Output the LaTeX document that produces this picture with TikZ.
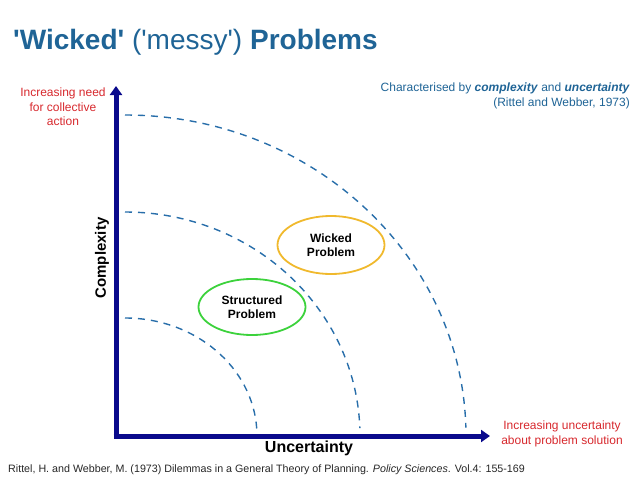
\documentclass[tikz,border=0pt]{standalone}
\usepackage{fontspec}
\setmainfont{Liberation Sans}
\usetikzlibrary{arrows.meta,shapes.geometric}
\definecolor{titleblue}{RGB}{31,100,150}
\definecolor{navy}{RGB}{10,10,140}
\definecolor{arcblue}{RGB}{40,110,170}
\definecolor{labred}{RGB}{215,40,45}
\definecolor{wickgold}{RGB}{240,185,45}
\definecolor{structgreen}{RGB}{60,210,60}
\tikzset{
  arcline/.style={arcblue, line width=1.4pt, dash pattern=on 7pt off 6pt},
  axisline/.style={navy, line width=5pt, -{Triangle[length=9pt,width=12pt]}},
  redlabel/.style={labred, font=\fontsize{12}{14.5}\selectfont, align=center},
  problem/.style={ellipse, line width=1.8pt, font=\bfseries\fontsize{12}{14.5}\selectfont, align=center, inner sep=0pt},
}
\begin{document}
\begin{tikzpicture}[x=1pt,y=-1pt]
\useasboundingbox (0,0) rectangle (638,479);
% arcs
\coordinate (o) at (116,436);
\draw[arcline] (125,318) arc[start angle=-90, end angle=-3, x radius=132, y radius=118];
\draw[arcline] (125,212) arc[start angle=-90, end angle=-2, x radius=235, y radius=224];
\draw[arcline] (125,115) arc[start angle=-90, end angle=-1.5, x radius=341, y radius=321];
% axes
\coordinate (ytip) at (116,86);
\coordinate (xtip) at (490,436);
\draw[axisline] (113.5,436) -- (xtip);
\draw[axisline] (116,438.5) -- (ytip);
% ellipses
\node[problem, draw=wickgold, minimum width=107pt, minimum height=58pt] (wicked) at (331,245) {Wicked\\Problem};
\node[problem, draw=structgreen, minimum width=107pt, minimum height=56pt] (struct) at (252,307) {Structured\\Problem};
% title
\node[anchor=base west, inner sep=0pt, titleblue, font=\fontsize{28}{30}\selectfont] (title) at (13,49) {\textbf{\textquotesingle Wicked\textquotesingle} (\textquotesingle messy\textquotesingle) \textbf{Problems}};
% red labels
\node[redlabel, anchor=north, inner sep=0pt] (need) at (63,88) {Increasing need\\for collective\\action};
\node[redlabel, anchor=north, inner sep=0pt] (unc) at (562,421) {Increasing uncertainty\\about problem solution};
% top right
\node[anchor=north east, inner sep=0pt, titleblue, font=\fontsize{12}{14.5}\selectfont, align=right] (char) at (630,83) {Characterised by \textbf{\textit{complexity}} and \textbf{\textit{uncertainty}}\\(Rittel and Webber, 1973)};
% axis labels
\node[rotate=90, font=\bfseries\fontsize{15}{18}\selectfont, inner sep=0pt] (cx) at (102,258) {Complexity};
\node[font=\bfseries\fontsize{16}{19}\selectfont, inner sep=0pt] (ux) at (309,448) {Uncertainty};
% footnote
\node[anchor=base west, inner sep=0pt, font=\fontsize{10.7}{12}\selectfont, black!85] (ref) at (8,472) {Rittel, H. and Webber, M. (1973) Dilemmas in a General Theory of Planning. \textit{Policy Sciences}. Vol.4: 155-169};
\end{tikzpicture}
\end{document}
